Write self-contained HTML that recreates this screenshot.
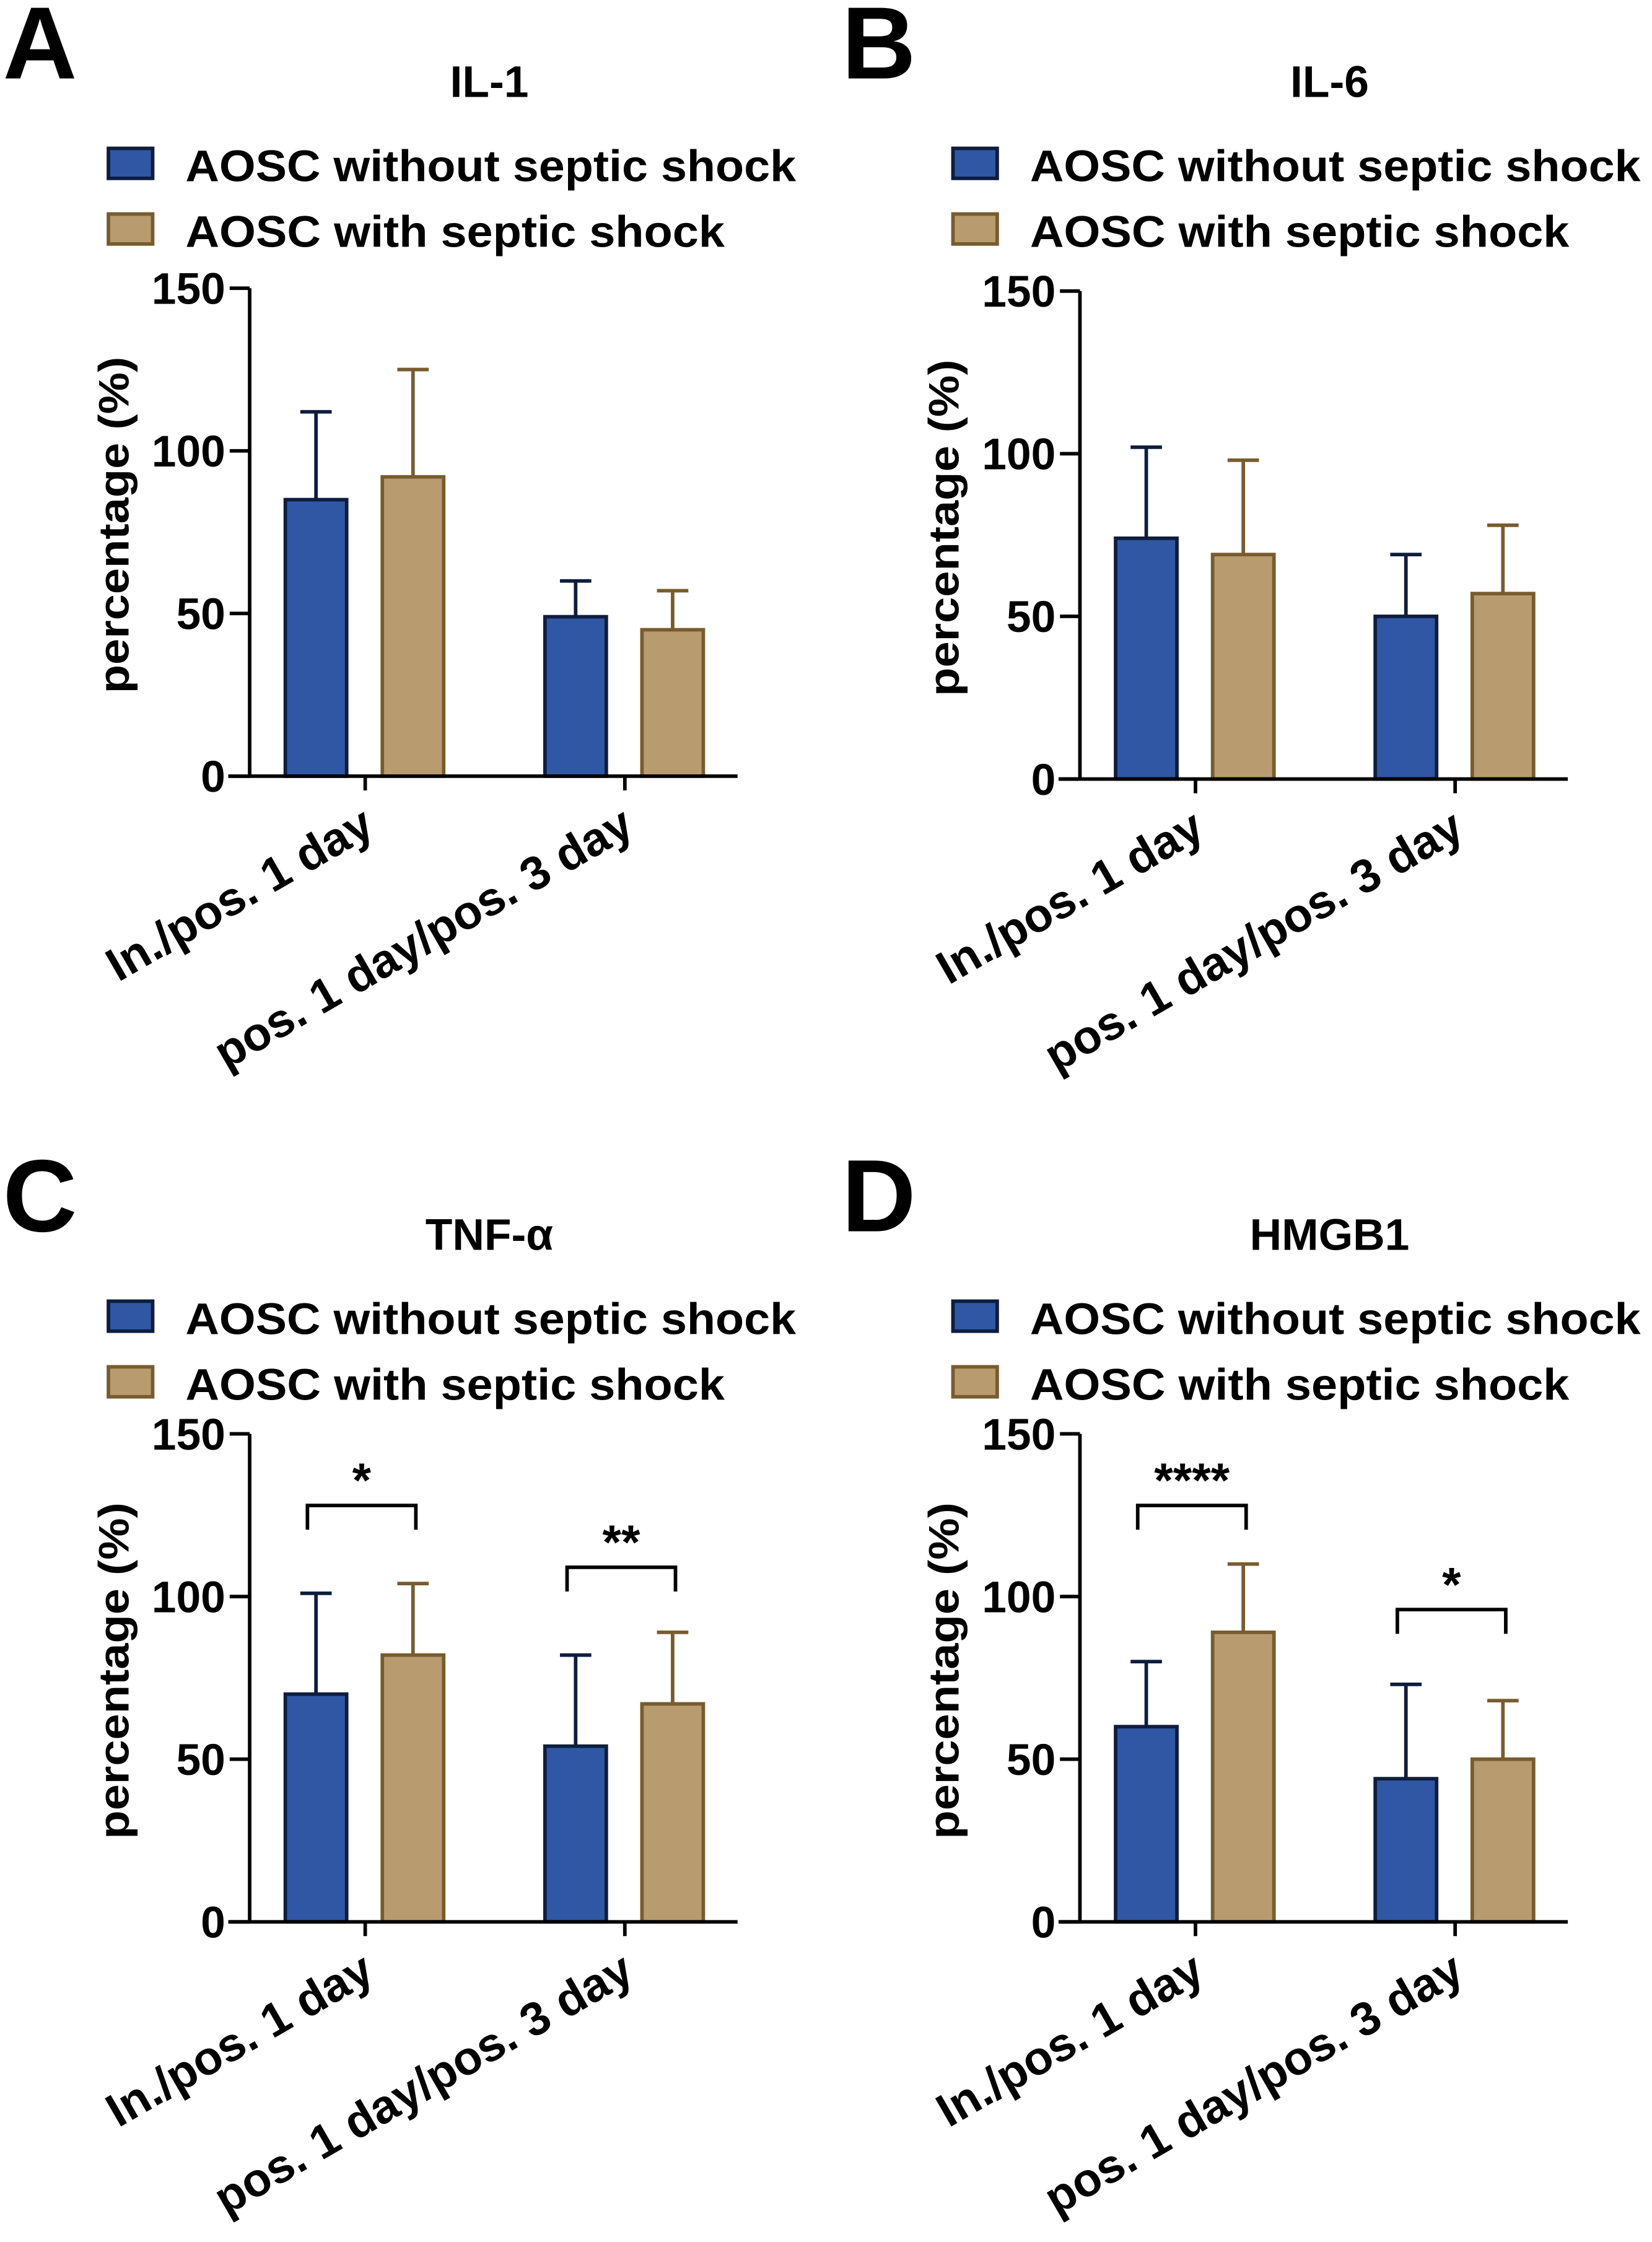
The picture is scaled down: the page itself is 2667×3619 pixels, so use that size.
<!DOCTYPE html>
<html><head><meta charset="utf-8">
<style>
html,body{margin:0;padding:0;background:#fff;}
svg{display:block;font-family:"Liberation Sans",Arial,sans-serif;font-weight:bold;}
</style></head>
<body>
<svg id="fig" width="2667" height="3619" viewBox="0 0 1158 1571.4" preserveAspectRatio="none" xmlns="http://www.w3.org/2000/svg"></svg>
<script>
const panelLetters = ["A","B","C","D"];
const panelTitles = ["IL-1","IL-6","TNF-α","HMGB1"];
const categories = ["In./pos. 1 day","pos. 1 day/pos. 3 day"];
const seriesNames = ["AOSC without septic shock","AOSC with septic shock"];
const yTicks = [0,50,100,150];
// means [group1, group2] per panel
const withoutMeans = [[85,49],[74,50],[70,54],[60,44]];
const withoutErr   = [[112,60],[102,69],[101,82],[80,73]];
const withMeans    = [[92,45],[69,57],[82,67],[89,50]];
const withErr      = [[125,57],[98,78],[104,89],[110,68]];
// significance: panel, group, bracket value, label
const sigPanels = [2,2,3,3];
const sigGroups = [0,1,0,1];
const sigValues = [128,109,128,96];
const sigLabels = ["*","**","****","*"];

const NS="http://www.w3.org/2000/svg";
const svg=document.getElementById('fig');
function mk(tag,attrs,parent,text){const e=document.createElementNS(NS,tag);for(const k in attrs)e.setAttribute(k,attrs[k]);if(text!==undefined)e.textContent=text;(parent||svg).appendChild(e);return e;}

const blueFill="#2f57a4", blueStroke="#0f1d3d", tanFill="#b89c6f", tanStroke="#785c2f";
const offsets=[[0,0],[582,2],[0,803],[582,803]];
const headOffsets=[[0,0],[592,0],[0,808],[592,808]];

for(let p=0;p<4;p++){
  const ox=offsets[p][0], oy=offsets[p][1];
  const hx=headOffsets[p][0], hy=headOffsets[p][1];
  const g=mk('g',{});
  
  
  const axX=175+ox, y0=544+oy, yTop=202+oy;
  const yS=v=>y0-(v/150)*(y0-yTop);
  const groupX=[256+ox,438+ox];
  const xBar=(gi,si)=>groupX[gi]+(si===0?-56:12);
  const bw=43;

  let t=mk('text',{x:2+hx-(p%2?4:0),y:55+hy,'font-size':72},g,panelLetters[p]);
  
  t=mk('text',{x:343+hx-(p%2?3:0),y:68+hy,'font-size':31,'text-anchor':'middle'},g,panelTitles[p]);
  

  for(let s=0;s<2;s++){
    const ly=103+s*46+hy;
    const sw=mk('rect',{x:76+hx,y:ly+1,width:31,height:21,fill:s?tanFill:blueFill,stroke:s?tanStroke:blueStroke,'stroke-width':2.5},g);
    
    const lt=mk('text',{x:130+hx,y:ly+24,'font-size':31,textLength:s?378:428,lengthAdjust:'spacingAndGlyphs'},g,seriesNames[s]);
    
  }

  const means=[withoutMeans[p],withMeans[p]], errs=[withoutErr[p],withErr[p]];
  for(let gi=0;gi<2;gi++)for(let si=0;si<2;si++){
    const x=xBar(gi,si), st=si?tanStroke:blueStroke;
    const eb=mk('path',{d:`M${x+bw/2},${yS(means[si][gi])} V${yS(errs[si][gi])} M${x+bw/2-11},${yS(errs[si][gi])} H${x+bw/2+11}`,stroke:st,'stroke-width':2.5,fill:'none'},g);
    
    const r=mk('rect',{x:x,y:yS(means[si][gi]),width:bw,height:y0-yS(means[si][gi]),fill:si?tanFill:blueFill,stroke:st,'stroke-width':2.5},g);
    
  }

  const ya=mk('path',{d:`M${axX},${yTop} V${y0}`,stroke:'#000','stroke-width':2.5,fill:'none'},g);
  
  const xa=mk('path',{d:`M${160+ox},${y0} H${517+ox} M${groupX[0]},${y0} V${y0+10} M${groupX[1]},${y0} V${y0+10}`,stroke:'#000','stroke-width':2.5,fill:'none'},g);
  
  for(const v of yTicks){
    const tk=mk('path',{d:`M${axX-14},${yS(v)} H${axX}`,stroke:'#000','stroke-width':2.5},g);
    
    const tl=mk('text',{x:axX-17,y:yS(v)+11,'font-size':31,'text-anchor':'end'},g,String(v));
    
  }
  const yl=mk('text',{x:0,y:0,'font-size':30,'text-anchor':'middle',transform:`translate(${90+ox},${368+oy}) rotate(-90)`,textLength:236,lengthAdjust:'spacingAndGlyphs'},g,'percentage (%)');
  
  for(let gi=0;gi<2;gi++){
    const xl=mk('text',{x:0,y:0,'font-size':33,'text-anchor':'end',transform:`translate(${groupX[gi]+8},${y0+40}) rotate(-30)`},g,categories[gi]);
    
  }
  for(let k=0;k<sigPanels.length;k++){
    if(sigPanels[k]!==p)continue;
    const gi=sigGroups[k], xa1=xBar(gi,0)+bw/2-6, xa2=xBar(gi,1)+bw/2+2, yb=yS(sigValues[k]);
    const br=mk('path',{d:`M${xa1},${yb+17} V${yb} H${xa2} V${yb+17}`,stroke:'#000','stroke-width':2.5,fill:'none'},g);
    
    const sl=mk('text',{x:(xa1+xa2)/2,y:yb-6,'font-size':34,'text-anchor':'middle'},g,sigLabels[k]);
    
  }
}
</script>
</body></html>
